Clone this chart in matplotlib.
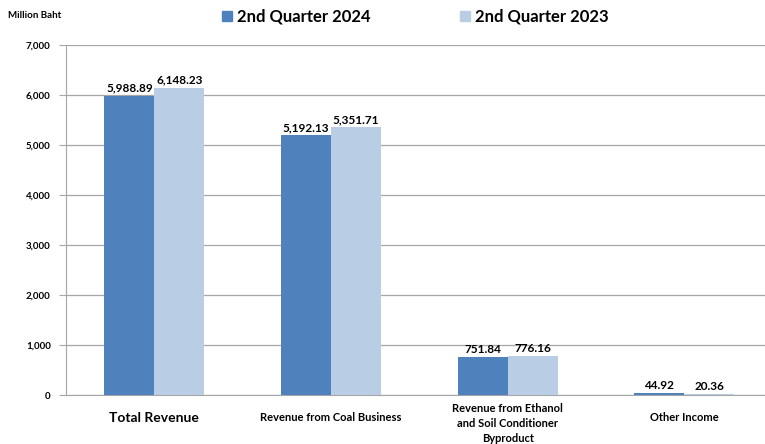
import numpy as np
import matplotlib
matplotlib.use("Agg")
import matplotlib.pyplot as plt
import matplotlib.ticker as mticker
from matplotlib.patches import Rectangle

categories = ["Total Revenue", "Revenue from Coal Business",
              "Revenue from Ethanol\nand Soil Conditioner\nByproduct", "Other Income"]
q2_2024 = [5988.89, 5192.13, 751.84, 44.92]
q2_2023 = [6148.23, 5351.71, 776.16, 20.36]
series_names = ["2nd Quarter 2024", "2nd Quarter 2023"]

DARK, LIGHT = "#4F81BD", "#B9CDE5"
plt.rcParams["font.family"] = ["Lato", "DejaVu Sans"]

fig = plt.figure(figsize=(7.65, 4.44), dpi=100)
W, H = 765, 444
ax = fig.add_axes([66 / W, 1 - 395 / H, (765 - 66) / W, (395 - 45) / H])

x = np.arange(len(categories))
w = 0.283
ax.bar(x - w / 2, q2_2024, w, color=DARK, zorder=3)
ax.bar(x + w / 2, q2_2023, w, color=LIGHT, zorder=3)

# value labels
for xi, v in zip(x - w / 2, q2_2024):
    ax.text(xi, v + 40, f"{v:,.2f}", ha="center", va="bottom", fontsize=8.5, fontweight="bold")
for xi, v in zip(x + w / 2, q2_2023):
    ax.text(xi, v + 40, f"{v:,.2f}", ha="center", va="bottom", fontsize=8.5, fontweight="bold")

ax.set_xlim(-0.5, 3.456)
ax.set_ylim(0, 7000)
ax.yaxis.set_major_locator(mticker.MultipleLocator(1000))
ax.yaxis.set_major_formatter(mticker.FuncFormatter(lambda v, _: f"{v:,.0f}"))
ax.grid(axis="y", color="#A6A6A6", linewidth=0.9, zorder=0)
for s in ["top", "right"]:
    ax.spines[s].set_visible(False)
ax.spines["left"].set_color("#A6A6A6")
ax.spines["bottom"].set_color("#A6A6A6")
ax.tick_params(axis="y", length=5, color="#A6A6A6", labelsize=7, pad=6)
for lbl in ax.get_yticklabels():
    lbl.set_fontweight("bold")

ax.set_xticks(x)
ax.set_xticklabels(categories, fontsize=8, fontweight="bold", linespacing=1.45)
ax.tick_params(axis="x", length=0, pad=12)
ax.get_xticklabels()[0].set_fontsize(10)
ax.get_xticklabels()[2].set_y(0.025)

fig.text(8 / W, 1 - 15 / H, "Million Baht", fontsize=7, fontweight="bold", va="center")

# legend drawn by hand across the top
for px, col, name in [(222, DARK, series_names[0]), (460, LIGHT, series_names[1])]:
    fig.patches.append(Rectangle((px / W, 1 - 21 / H), 10 / W, 10 / H, color=col,
                                 transform=fig.transFigure, figure=fig))
    fig.text((px + 15) / W, 1 - 16 / H, name, fontsize=12, fontweight="bold", va="center")

fig.savefig("out.png", dpi=100)
